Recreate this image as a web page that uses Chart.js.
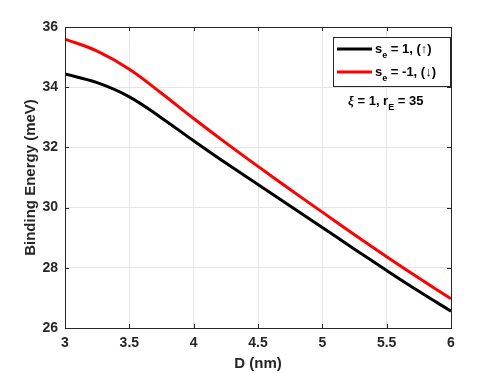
<!DOCTYPE html>
<html>
<head>
<meta charset="utf-8">
<script src="https://cdn.jsdelivr.net/npm/chart.js@4.4.1/dist/chart.umd.min.js"></script>
<style>
  html, body { margin: 0; padding: 0; background: #fff; }
  #wrap { width: 498px; height: 374px; }
</style>
</head>
<body>
<div id="wrap"><canvas id="chart" width="498" height="374"></canvas></div>
<script>
// Data
const dValues = [3, 3.25, 3.5, 3.75, 4, 4.25, 4.5, 4.75, 5, 5.25, 5.5, 5.75, 6];
const spinUp = [34.44, 34.15, 33.68, 32.98, 32.22, 31.48, 30.77, 30.05, 29.34, 28.62, 27.91, 27.22, 26.56];
const spinDown = [35.6, 35.2, 34.6, 33.8, 32.96, 32.15, 31.37, 30.6, 29.85, 29.1, 28.37, 27.66, 26.97];
const xTicks = [3, 3.5, 4, 4.5, 5, 5.5, 6];
const yTicks = [26, 28, 30, 32, 34, 36];

const axisColor = "#262626";
const bold = "bold 13px 'Liberation Sans', Arial, sans-serif";
const boldSmall = "bold 9px 'Liberation Sans', Arial, sans-serif";

function toPoints(ys) {
    return dValues.map((x, i) => ({ x: x, y: ys[i] }));
}

// Draw text pieces one after another (for subscripts)
function drawRich(ctx, x, y, parts) {
    parts.forEach((p) => {
        ctx.font = p.font;
        ctx.fillText(p.text, x, y + (p.dy || 0));
        x += ctx.measureText(p.text).width;
    });
}

// Box, inward ticks, legend and annotation
const extras = {
    id: "extras",
    afterDraw(chart) {
        const { ctx, chartArea: a, scales } = chart;
        ctx.save();
        ctx.strokeStyle = axisColor;
        ctx.lineWidth = 1;
        ctx.strokeRect(Math.round(a.left) + 0.5, Math.round(a.top) + 0.5,
            Math.round(a.right - a.left), Math.round(a.bottom - a.top));

        ctx.beginPath();
        xTicks.forEach((t) => {
            const px = Math.round(scales.x.getPixelForValue(t)) + 0.5;
            ctx.moveTo(px, a.bottom); ctx.lineTo(px, a.bottom - 4);
            ctx.moveTo(px, a.top); ctx.lineTo(px, a.top + 4);
        });
        yTicks.forEach((t) => {
            const py = Math.round(scales.y.getPixelForValue(t)) + 0.5;
            ctx.moveTo(a.left, py); ctx.lineTo(a.left + 4, py);
            ctx.moveTo(a.right, py); ctx.lineTo(a.right - 4, py);
        });
        ctx.stroke();

        // legend
        ctx.fillStyle = "#fff";
        ctx.fillRect(333, 37, 117, 49);
        ctx.strokeStyle = axisColor;
        ctx.strokeRect(333.5, 37.5, 117, 49);

        ctx.lineWidth = 3;
        ctx.strokeStyle = "#000";
        ctx.beginPath(); ctx.moveTo(337, 49); ctx.lineTo(372, 49); ctx.stroke();
        ctx.strokeStyle = "#ff0000";
        ctx.beginPath(); ctx.moveTo(337, 72); ctx.lineTo(372, 72); ctx.stroke();

        ctx.fillStyle = "#000";
        ctx.textBaseline = "alphabetic";
        ctx.textAlign = "left";
        drawRich(ctx, 375, 53, [
            { text: "s", font: bold },
            { text: "e", font: boldSmall, dy: 5 },
            { text: " = 1, (\u2191)", font: bold }
        ]);
        drawRich(ctx, 375, 76, [
            { text: "s", font: bold },
            { text: "e", font: boldSmall, dy: 5 },
            { text: " = -1, (\u2193)", font: bold }
        ]);

        // parameters
        drawRich(ctx, 348, 105, [
            { text: "\u03be", font: "italic bold 13px 'Liberation Serif', serif" },
            { text: " = 1, r", font: bold },
            { text: "E", font: boldSmall, dy: 5 },
            { text: " = 35", font: bold }
        ]);
        ctx.restore();
    }
};

const ctx = document.getElementById("chart").getContext("2d");

new Chart(ctx, {
    type: "line",
    data: {
        datasets: [
            {
                label: "s_e = 1",
                data: toPoints(spinUp),
                borderColor: "#000000",
                borderWidth: 3,
                pointRadius: 0,
                tension: 0.4,
            },
            {
                label: "s_e = -1",
                data: toPoints(spinDown),
                borderColor: "#ff0000",
                borderWidth: 3,
                pointRadius: 0,
                tension: 0.4,
            },
        ],
    },
    options: {
        responsive: false,
        animation: false,
        layout: { padding: { top: 27, right: 47, left: 0, bottom: 0 } },
        scales: {
            x: {
                type: "linear",
                min: 3,
                max: 6,
                afterFit: (s) => { s.height = 46; },
                afterBuildTicks: (s) => { s.ticks = xTicks.map((v) => ({ value: v })); },
                grid: { color: "#e5e5e5", drawTicks: false },
                border: { color: axisColor },
                ticks: {
                    color: axisColor,
                    padding: 7,
                    font: { family: "'Liberation Sans', Arial", size: 14, weight: "bold" },
                    callback: (v) => String(v),
                },
                title: {
                    display: true,
                    text: "D (nm)",
                    color: axisColor,
                    padding: { top: 0, bottom: 1 },
                    font: { family: "'Liberation Sans', Arial", size: 15, weight: "bold" },
                },
            },
            y: {
                min: 26,
                max: 36,
                afterFit: (s) => { s.width = 65; },
                afterBuildTicks: (s) => { s.ticks = yTicks.map((v) => ({ value: v })); },
                grid: { color: "#e5e5e5", drawTicks: false },
                border: { color: axisColor },
                ticks: {
                    color: axisColor,
                    padding: 7,
                    font: { family: "'Liberation Sans', Arial", size: 14, weight: "bold" },
                    callback: (v) => String(v),
                },
                title: {
                    display: true,
                    text: "Binding Energy (meV)",
                    color: axisColor,
                    padding: { top: 22, bottom: 0 },
                    font: { family: "'Liberation Sans', Arial", size: 15, weight: "bold" },
                },
            },
        },
        plugins: {
            legend: { display: false },
            tooltip: { enabled: false },
        },
    },
    plugins: [extras],
});
</script>
</body>
</html>
